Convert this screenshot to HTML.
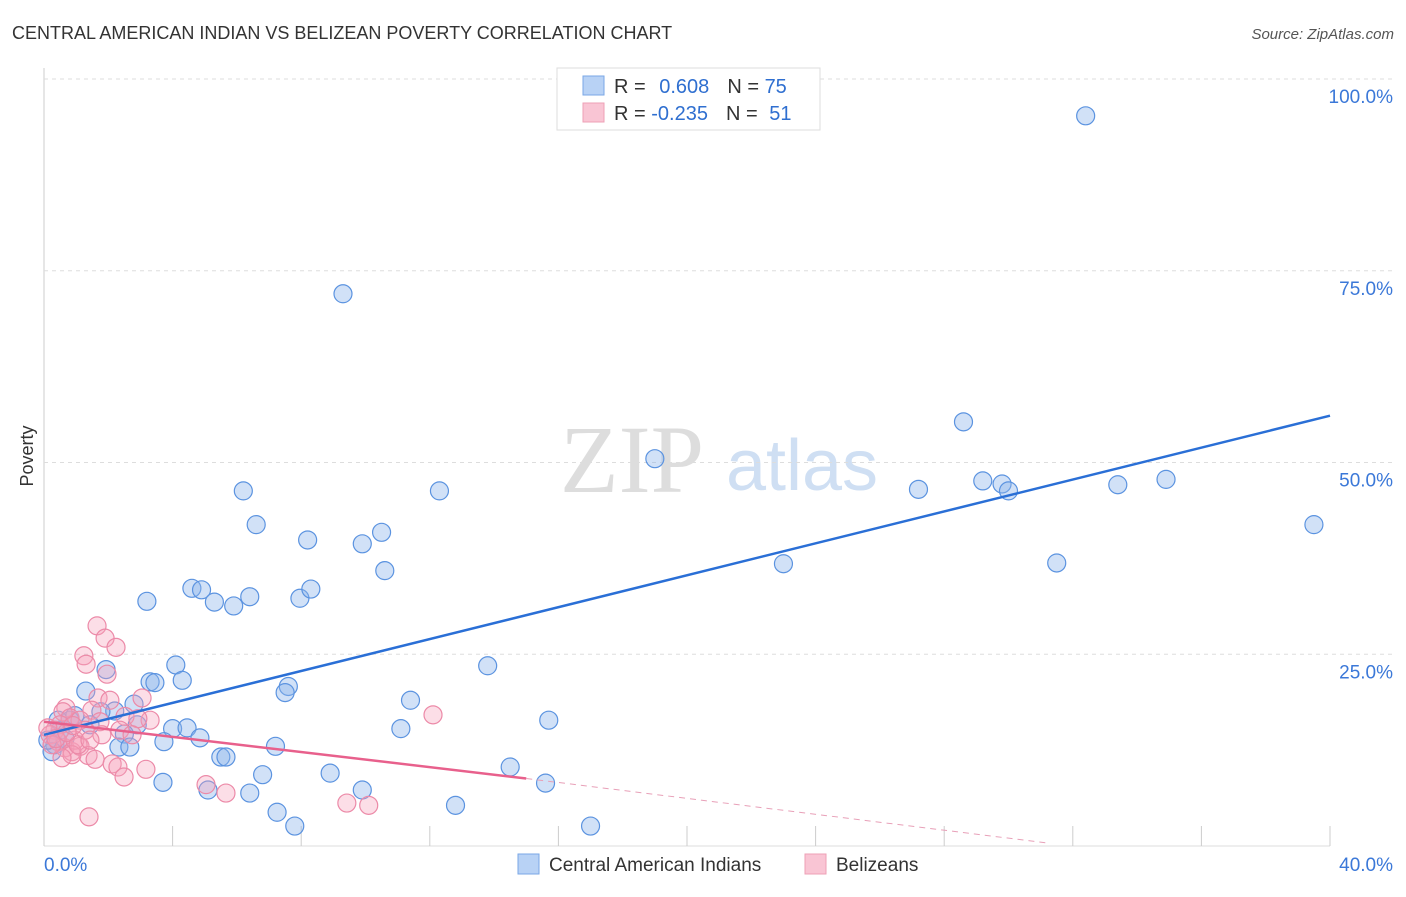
<!DOCTYPE html>
<html><head><meta charset="utf-8"><style>
body{margin:0;background:#fff;font-family:"Liberation Sans",sans-serif;}
</style></head><body>
<svg width="1406" height="892" xmlns="http://www.w3.org/2000/svg">
<text x="12" y="39" font-size="18" fill="#333">CENTRAL AMERICAN INDIAN VS BELIZEAN POVERTY CORRELATION CHART</text>
<text x="1394" y="39" font-size="15" fill="#555" font-style="italic" text-anchor="end">Source: ZipAtlas.com</text>
<text x="33" y="456" font-size="18" fill="#333" transform="rotate(-90 33 456)" text-anchor="middle">Poverty</text>
<text x="632" y="492" font-size="96" fill="#ddd" font-family="Liberation Serif,serif" text-anchor="middle">ZIP</text>
<text x="802" y="490" font-size="72" fill="#cfdff3" text-anchor="middle">atlas</text>
<g id="grid"></g>
<g id="pts"></g>
<g id="lines"></g>
<g>
<rect x="557" y="68" width="263" height="62" fill="#fff" stroke="#ddd"/>
<rect x="583" y="76" width="21" height="19" fill="#b8d2f5" stroke="#7aa7e6"/>
<rect x="583" y="103" width="21" height="19" fill="#f9c5d4" stroke="#eea0b6"/>
<text x="614" y="93" font-size="20" fill="#333">R = <tspan fill="#2f6fd0" dx="8">0.608</tspan><tspan fill="#333" dx="18">N = </tspan><tspan fill="#2f6fd0">75</tspan></text>
<text x="614" y="120" font-size="20" fill="#333">R = <tspan fill="#2f6fd0">-0.235</tspan><tspan fill="#333" dx="18">N = </tspan><tspan fill="#2f6fd0" dx="6">51</tspan></text>
</g>
<g>
<rect x="518" y="854" width="21" height="20" fill="#b8d2f5" stroke="#7aa7e6"/>
<text x="549" y="871" font-size="19" fill="#333">Central American Indians</text>
<rect x="805" y="854" width="21" height="20" fill="#f9c5d4" stroke="#eea0b6"/>
<text x="836" y="871" font-size="19" fill="#333">Belizeans</text>
</g>
</svg>
<script>
const yTicks=[25,50,75,100];
const xTickLabels=["0.0%","40.0%"];
const blueX=[32.4,9.3,28.6,19.0,6.2,12.3,27.2,29.2,29.8,30.0,33.4,34.9,39.5,6.6,8.2,9.9,10.5,10.6,23.0,31.5,3.2,4.6,5.9,4.9,5.3,6.4,7.96,8.3,13.8,4.1,4.3,3.3,3.45,1.93,1.3,7.6,7.5,11.4,2.8,2.2,1.77,15.7,11.1,2.9,2.5,4.0,4.45,4.85,3.73,2.33,2.67,5.5,5.66,7.2,6.8,8.9,14.5,15.6,3.7,5.1,6.4,9.9,12.8,7.25,7.8,17.0,0.81,0.5,0.34,0.25,0.96,0.65,1.43,0.44,0.12];
const blueY=[95.2,72.0,55.3,50.5,46.3,46.3,46.5,47.6,47.2,46.3,47.1,47.8,41.9,41.9,39.9,39.4,40.9,35.9,36.8,36.9,31.9,33.6,31.3,33.4,31.8,32.5,32.3,33.5,23.5,23.6,21.6,21.4,21.3,23.0,20.2,20.8,20.0,19.0,18.5,17.6,17.5,16.4,15.3,15.8,14.6,15.3,15.4,14.1,13.6,12.9,12.9,11.6,11.6,13.0,9.3,9.5,10.3,8.2,8.3,7.3,6.9,7.3,5.3,4.4,2.6,2.6,16.4,15.1,13.2,12.3,17.0,14.0,15.8,16.4,13.8];
const pinkX=[1.65,1.9,2.24,1.24,1.31,1.96,1.68,3.05,1.49,0.68,0.59,0.81,1.12,1.74,0.5,0.34,0.19,0.44,0.65,0.87,1.12,0.96,1.37,1.59,0.87,0.56,0.25,0.12,2.52,3.3,2.92,1.8,2.12,2.3,2.49,3.17,5.04,5.66,9.42,10.1,12.1,1.4,1.06,1.28,1.43,0.37,0.71,0.9,2.05,2.36,2.74];
const pinkY=[28.7,27.1,25.9,24.8,23.7,22.4,19.3,19.3,17.7,18.0,17.5,16.7,16.4,16.2,15.8,15.1,14.5,13.6,12.8,12.3,13.0,13.8,11.8,11.3,11.9,11.5,13.2,15.4,16.9,16.4,16.6,14.5,10.7,10.3,9.0,10.0,8.0,6.9,5.6,5.3,17.1,3.8,13.2,15.1,13.8,14.0,14.8,15.7,19.0,15.1,14.5];
const blueTrend=[0,14.5,40,56.1];
const pinkTrend=[0,16.2,15.0,8.8,31.2,0.4];
const NS="http://www.w3.org/2000/svg";
const X=v=>44+v/40*1286, Y=v=>846-v/100*767;
function mk(t,a,p){const e=document.createElementNS(NS,t);for(const k in a)e.setAttribute(k,a[k]);p.appendChild(e);return e;}
const g=document.getElementById('grid');
mk('line',{x1:44,y1:68,x2:44,y2:846,stroke:'#ccc'},g);
mk('line',{x1:44,y1:846,x2:1330,y2:846,stroke:'#ddd'},g);
for(let i=0;i<=10;i++){const l=mk('line',{x1:X(i*4),y1:826,x2:X(i*4),y2:846,stroke:'#ccc'},g);

}
yTicks.forEach(v=>{const l=mk('line',{x1:44,y1:Y(v),x2:1394,y2:Y(v),stroke:'#ddd','stroke-dasharray':'4,4'},g);


const t=mk('text',{x:1393,y:Y(v)+24,'font-size':19,fill:'#3b78d8','text-anchor':'end'},g);t.textContent=v.toFixed(1)+'%';

});
xTickLabels.forEach((s,i)=>{const t=mk('text',{x:i?1393:44,y:871,'font-size':19,fill:'#3b78d8','text-anchor':i?'end':'start'},g);t.textContent=s;

});
const p=document.getElementById('pts');
blueX.forEach((x,i)=>{const c=mk('circle',{cx:X(x),cy:Y(blueY[i]),r:9,fill:'rgba(140,180,235,0.4)',stroke:'#5b93e0','stroke-width':1.2},p);

});
pinkX.forEach((x,i)=>{const c=mk('circle',{cx:X(x),cy:Y(pinkY[i]),r:9,fill:'rgba(245,160,185,0.35)',stroke:'#ec8aa8','stroke-width':1.2},p);

});
const L=document.getElementById('lines');
const b=mk('line',{x1:X(blueTrend[0]),y1:Y(blueTrend[1]),x2:X(blueTrend[2]),y2:Y(blueTrend[3]),stroke:'#2a6fd6','stroke-width':2.5},L);


const pk=mk('line',{x1:X(pinkTrend[0]),y1:Y(pinkTrend[1]),x2:X(pinkTrend[2]),y2:Y(pinkTrend[3]),stroke:'#e8608c','stroke-width':2.5},L);


const pd=mk('line',{x1:X(pinkTrend[2]),y1:Y(pinkTrend[3]),x2:X(pinkTrend[4]),y2:Y(pinkTrend[5]),stroke:'#e8a0b8','stroke-width':1,'stroke-dasharray':'6,5'},L);


</script>
</body></html>
